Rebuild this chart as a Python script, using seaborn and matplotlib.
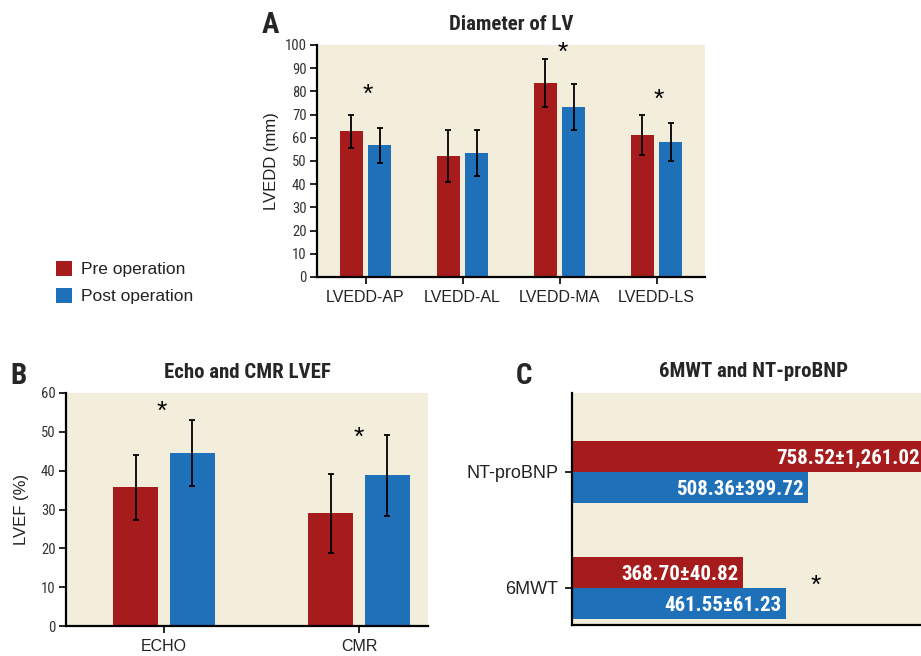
import pandas as pd
import matplotlib
matplotlib.use('Agg')
import matplotlib.pyplot as plt
from matplotlib import font_manager
import seaborn as sns

# Panel A - diameter of LV
a_cats = ['LVEDD-AP', 'LVEDD-AL', 'LVEDD-MA', 'LVEDD-LS']
a_pre = [62.8, 52.2, 83.6, 61.2]
a_post = [56.8, 53.4, 73.3, 58.2]
a_pre_sd = [7.0, 11.2, 10.4, 8.7]
a_post_sd = [7.6, 9.8, 9.9, 8.3]
a_star_y = [79.7, 98.0, 77.6]
a_star_x = [0.02, 2.03, 3.02]

# Panel B - echo and CMR LVEF
b_cats = ['ECHO', 'CMR']
b_pre = [35.7, 29.0]
b_post = [44.5, 38.8]
b_pre_sd = [8.3, 10.2]
b_post_sd = [8.45, 10.4]
b_star_y = [55.9, 49.2]
b_star_x = [-0.01, 1.0]

# Panel C - 6MWT and NT-proBNP
c_cats = ['NT-proBNP', '6MWT']
c_pre = [758.52, 368.70]
c_post = [508.36, 461.55]
c_pre_labels = ['758.52±1,261.02', '368.70±40.82']
c_post_labels = ['508.36±399.72', '461.55±61.23']

groups = ['Pre operation', 'Post operation']
colors = ['#A61C1C', '#1E70B8']
bg = '#F2EEDB'

sns.set_theme(style='white')
plt.rcParams['font.family'] = ['Liberation Sans', 'DejaVu Sans']

# pick a condensed face if one is around
installed = {f.name for f in font_manager.fontManager.ttflist}
condensed_names = [f.name for f in font_manager.fontManager.ttflist
                   if 'ondensed' in f.name or 'Narrow' in f.name]
narrow = None
for cand in ['Roboto Condensed', 'Liberation Sans Narrow', 'Open Sans Condensed',
             'DejaVu Sans Condensed'] + sorted(condensed_names):
    if cand in installed:
        narrow = cand
        break
narrow_fam = [narrow, 'DejaVu Sans'] if narrow else ['DejaVu Sans']
has_narrow = narrow is not None


def long_df(cats, pre, post):
    return pd.DataFrame({
        'cat': cats * 2,
        'value': list(pre) + list(post),
        'group': [groups[0]] * len(cats) + [groups[1]] * len(cats),
    })


def style_axes(ax):
    ax.set_facecolor(bg)
    for s in ['top', 'right']:
        ax.spines[s].set_visible(False)
    for s in ['left', 'bottom']:
        ax.spines[s].set_color('black')
        ax.spines[s].set_linewidth(1.6)
    ax.tick_params(axis='both', direction='out', length=5, width=1.2,
                   color='black', left=True, bottom=True)


def add_errors(ax, sds):
    for cont, sd in zip(ax.containers, sds):
        xs = [b.get_x() + b.get_width() / 2 for b in cont]
        ys = [b.get_height() for b in cont]
        ax.errorbar(xs, ys, yerr=sd, fmt='none', ecolor='black',
                    elinewidth=1.3, capsize=2.5, capthick=1.3, zorder=5)


def add_stars(ax, xs, ys):
    for x, y in zip(xs, ys):
        ax.annotate('*', (x, y), xytext=(0, -7), textcoords='offset points',
                    ha='center', va='baseline', fontsize=19, color='black')


fig = plt.figure(figsize=(9.21, 6.56), dpi=100)
W, H = 921, 656
title_fs = 15 if has_narrow else 13
bar_fs = 15 if has_narrow else 11.5
num_fs = 10.5 if has_narrow else 10

# ---- A
axA = fig.add_axes([317 / W, 1 - 277 / H, 388 / W, 232 / H])
sns.barplot(data=long_df(a_cats, a_pre, a_post), x='cat', y='value', hue='group',
            palette=colors, width=0.58, gap=0.21, errorbar=None, legend=True,
            saturation=1, linewidth=0, edgecolor='none', ax=axA)
style_axes(axA)
add_errors(axA, [a_pre_sd, a_post_sd])
add_stars(axA, a_star_x, a_star_y)
axA.set_xlim(-0.5, 3.5)
axA.set_ylim(0, 100)
axA.set_yticks(range(0, 101, 10))
axA.set_xlabel('')
axA.set_ylabel('LVEDD (mm)', fontsize=12, color='#222222')
axA.yaxis.set_label_coords(-0.098, 0.5)
axA.set_title('Diameter of LV', fontsize=title_fs, fontweight='bold',
              family=narrow_fam, pad=10.5)

handles, labels = axA.get_legend_handles_labels()
axA.get_legend().remove()
fig.legend(handles, labels, loc='upper left', bbox_to_anchor=(56 / W, 1 - 261 / H),
           frameon=False, fontsize=12.5, handlelength=0.92, handleheight=0.92,
           handletextpad=0.5, labelspacing=0.62, borderpad=0, borderaxespad=0,
           labelcolor='#222222')

# ---- B
axB = fig.add_axes([66 / W, 1 - 626 / H, 362 / W, 233 / H])
sns.barplot(data=long_df(b_cats, b_pre, b_post), x='cat', y='value', hue='group',
            palette=colors, width=0.58, gap=0.21, errorbar=None, legend=False,
            saturation=1, linewidth=0, edgecolor='none', ax=axB)
style_axes(axB)
add_errors(axB, [b_pre_sd, b_post_sd])
add_stars(axB, b_star_x, b_star_y)
axB.set_xlim(-0.503, 1.354)
axB.set_ylim(0, 60)
axB.set_yticks(range(0, 61, 10))
axB.set_xlabel('')
axB.set_ylabel('LVEF (%)', fontsize=12, color='#222222')
axB.yaxis.set_label_coords(-0.102, 0.5)
axB.set_title('Echo and CMR LVEF', fontsize=title_fs, fontweight='bold',
              family=narrow_fam, pad=10.5)

# ---- C
c_scale = 0.4645  # px per unit
axC = fig.add_axes([572 / W, 1 - 625 / H, 800 * c_scale / W, 232 / H])
sns.barplot(data=long_df(c_cats, c_pre, c_post), y='cat', x='value', hue='group',
            orient='h', palette=colors, width=0.534, gap=0, errorbar=None,
            legend=False, saturation=1, linewidth=0, edgecolor='none', ax=axC)
style_axes(axC)
axC.set_xlim(0, 800)
axC.set_ylim(1.32, -0.68)
axC.set_xticks([])
axC.set_xlabel('')
axC.set_ylabel('')
for cont, labs in zip(axC.containers, [c_pre_labels, c_post_labels]):
    for bar, lab in zip(cont, labs):
        axC.annotate(lab, (bar.get_width(), bar.get_y() + bar.get_height() / 2),
                     xytext=(-3.5, 0), textcoords='offset points', ha='right',
                     va='center_baseline', color='white', fontsize=bar_fs,
                     fontweight='bold', family=narrow_fam)
axC.annotate('*', (525, 0.96), xytext=(0, -7), textcoords='offset points',
             ha='center', va='baseline', fontsize=19, color='black')
fig.text(753 / W, 1 - 372 / H, '6MWT and NT-proBNP', ha='center', va='center',
         fontsize=title_fs, fontweight='bold', family=narrow_fam)

# tick label fonts
for ax in [axA, axB]:
    for t in ax.get_yticklabels():
        t.set_family(narrow_fam)
        t.set_fontsize(num_fs)
        t.set_color('#333333')
    for t in ax.get_xticklabels():
        t.set_fontsize(11.5)
        t.set_color('#222222')
    ax.tick_params(axis='x', pad=4.5)
    ax.tick_params(axis='y', pad=2.5)
for t in axC.get_yticklabels():
    t.set_fontsize(13)
    t.set_color('#222222')
axC.tick_params(axis='y', pad=5)

# panel letters
for letter, x, y in [('A', 270, 25), ('B', 19, 376), ('C', 524, 376)]:
    fig.text(x / W, 1 - y / H, letter, ha='center', va='center', fontsize=21,
             fontweight='bold', family=narrow_fam)

fig.savefig('out.png', dpi=100)
